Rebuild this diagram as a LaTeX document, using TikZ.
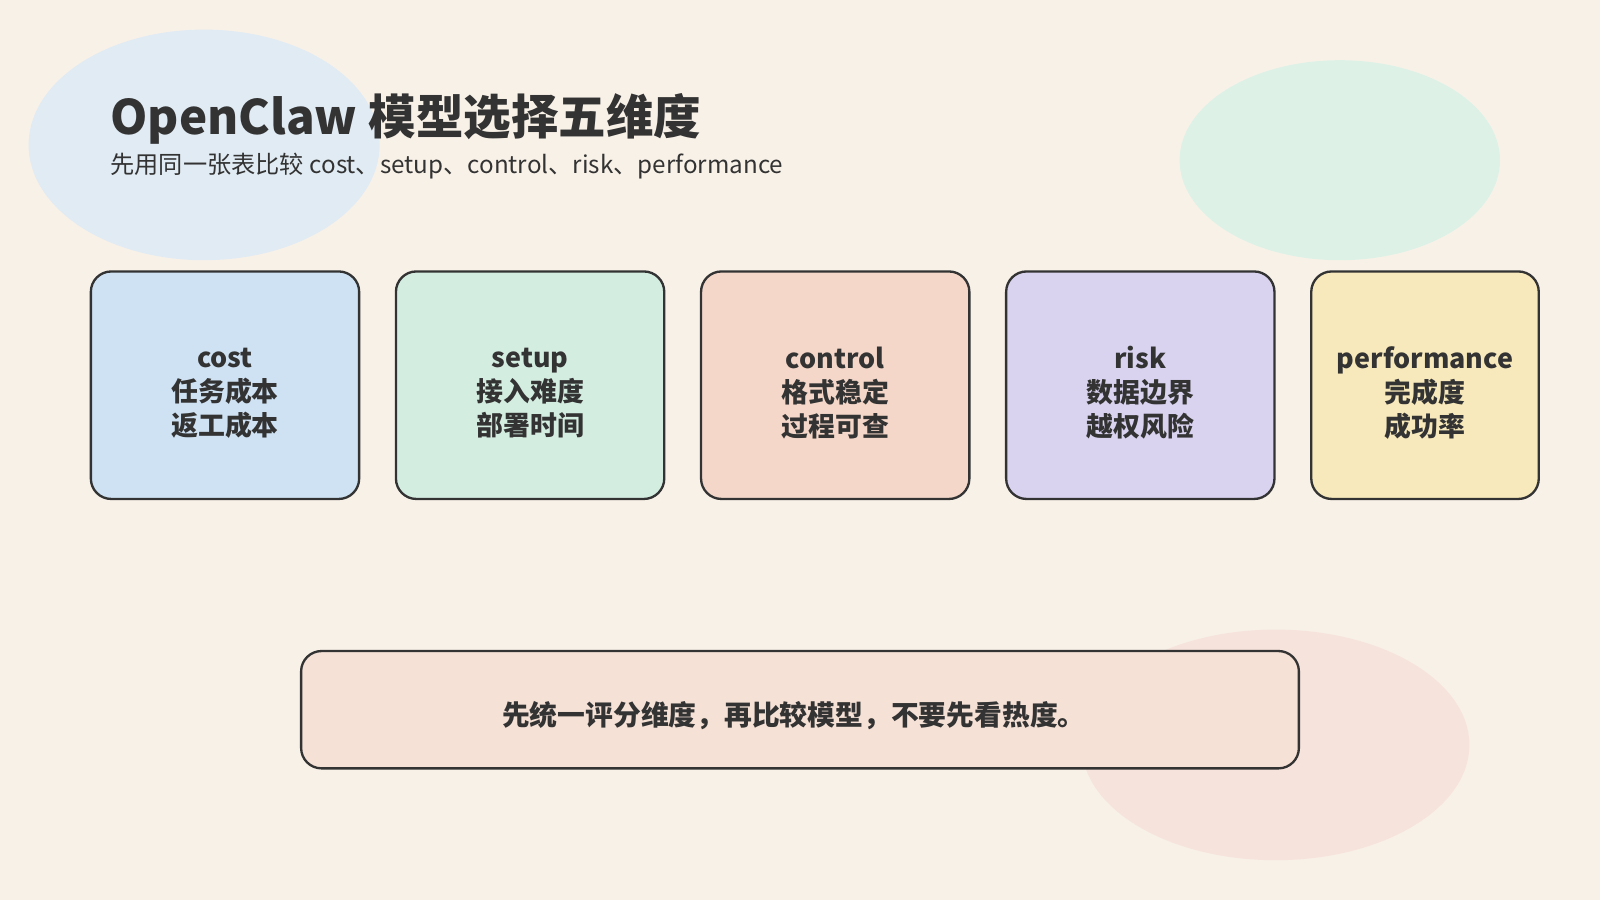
\documentclass[tikz,border=0pt]{standalone}
\usepackage{fontspec}
\setmainfont{Noto Sans CJK SC}
\usetikzlibrary{positioning}
\definecolor{bgpage}{HTML}{F8F1E8}
\definecolor{inkdark}{HTML}{333333}
\definecolor{blobblue}{HTML}{E1EBF3}
\definecolor{blobgreen}{HTML}{DDF1E7}
\definecolor{blobpink}{HTML}{F6E3DC}
\definecolor{cardblue}{HTML}{CFE2F3}
\definecolor{cardgreen}{HTML}{D4EDE1}
\definecolor{cardorange}{HTML}{F4D7C9}
\definecolor{cardpurple}{HTML}{DAD3F0}
\definecolor{cardyellow}{HTML}{F7E9BB}
\definecolor{notefill}{HTML}{F5E1D6}
\begin{document}
\begin{tikzpicture}[%
    x=0.02cm,
    y=-0.02cm,
    card/.style={%
      rectangle,
      rounded corners=0.4cm,
      draw=inkdark,
      line width=1.3pt,
      minimum height=4.46cm,
      text=inkdark,
      align=center,
      font=\fontsize{15}{19}\selectfont\bfseries
    },
    cardtext/.style={%
      text=inkdark,
      align=center,
      font=\fontsize{15}{19}\selectfont\bfseries
    },
    note/.style={%
      rectangle,
      rounded corners=0.4cm,
      draw=inkdark,
      line width=1.3pt,
      minimum width=19.56cm,
      minimum height=2.3cm,
      fill=notefill
    }
  ]
    \fill[bgpage] (0,0) rectangle (1568,882);
    \useasboundingbox (0,0) rectangle (1568,882);
    \fill[blobblue] (200,142) ellipse [x radius=172, y radius=113];
    \fill[blobgreen] (1313,157) ellipse [x radius=157, y radius=98];
    \fill[blobpink] (1250,730) ellipse [x radius=190, y radius=113];

    \node[anchor=base west, text=inkdark, font=\fontsize{26.5}{30}\selectfont\bfseries, inner xsep=0pt]
      (title) at (108,132) {OpenClaw 模型选择五维度};
    \node[anchor=base west, text=inkdark, font=\fontsize{13.5}{16}\selectfont, inner xsep=0pt]
      (sub) at (108,170) {先用同一张表比较 cost、setup、control、risk、performance};

    \node[card, fill=cardblue, minimum width=5.26cm] (cost) at (220.5,377.5) {};
    \node[card, fill=cardgreen, minimum width=5.26cm] (setup) at (519.5,377.5) {};
    \node[card, fill=cardorange, minimum width=5.26cm] (control) at (818.5,377.5) {};
    \node[card, fill=cardpurple, minimum width=5.26cm] (risk) at (1117.5,377.5) {};
    \node[card, fill=cardyellow, minimum width=4.46cm] (perf) at (1396.5,377.5) {};
    \node[cardtext] (costtext) at (220.5,385) {cost\\任务成本\\返工成本};
    \node[cardtext] (setuptext) at (519.5,385) {setup\\接入难度\\部署时间};
    \node[cardtext] (controltext) at (818.5,385) {control\\格式稳定\\过程可查};
    \node[cardtext] (risktext) at (1117.5,385) {risk\\数据边界\\越权风险};
    \node[cardtext] (perftext) at (1396.5,385) {performance\\完成度\\成功率};

    \node[note] (summary) at (784,695.5) {};
    \node[text=inkdark, font=\fontsize{15.5}{19}\selectfont\bfseries]
      (summarytext) at (778,701) {先统一评分维度，再比较模型，不要先看热度。};
\end{tikzpicture}
\end{document}
